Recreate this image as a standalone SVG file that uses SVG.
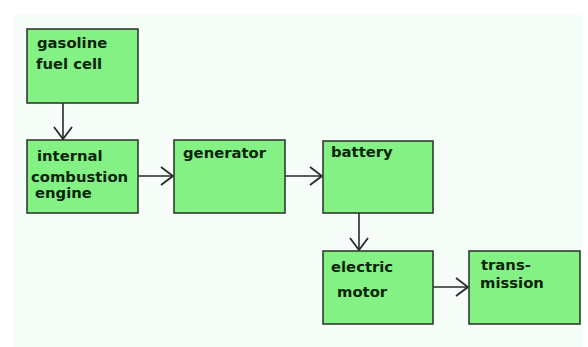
<svg xmlns="http://www.w3.org/2000/svg" width="588" height="347" viewBox="0 0 588 347">
<defs>
<style>
.box{fill:#84f184;stroke:#2f3d2f;stroke-width:1.6}
.t{font-family:"DejaVu Sans",Verdana,sans-serif;font-weight:bold;font-size:14.8px;fill:#0b240b}
.c{stroke:#2a2a2a;stroke-width:1.6;fill:none}
</style>
<marker id="ah" viewBox="0 0 14 20" refX="13" refY="10" markerWidth="14" markerHeight="20" markerUnits="userSpaceOnUse" orient="auto">
<path d="M1,1 L13,10 L1,19" fill="none" stroke="#2a2a2a" stroke-width="1.8"/>
</marker>
</defs>
<rect x="0" y="0" width="588" height="347" fill="#ffffff"/>
<rect x="13" y="15" width="570" height="332" fill="#f6fcf8"/>
<g id="connectors">
<line class="c" x1="63" y1="103" x2="63" y2="139" marker-end="url(#ah)"/>
<line class="c" x1="138" y1="176" x2="173" y2="176" marker-end="url(#ah)"/>
<line class="c" x1="285" y1="176" x2="322" y2="176" marker-end="url(#ah)"/>
<line class="c" x1="359" y1="213" x2="359" y2="250" marker-end="url(#ah)"/>
<line class="c" x1="433" y1="287" x2="468" y2="287" marker-end="url(#ah)"/>
</g>
<g id="gasoline">
<rect class="box" x="27" y="29" width="111" height="74"/>
<text class="t" x="37" y="48">gasoline</text>
<text class="t" x="36" y="69">fuel cell</text>
</g>
<g id="ice">
<rect class="box" x="27" y="140" width="111" height="73"/>
<text class="t" x="37" y="161">internal</text>
<text class="t" x="31" y="182">combustion</text>
<text class="t" x="35" y="198">engine</text>
</g>
<g id="generator">
<rect class="box" x="174" y="140" width="111" height="73"/>
<text class="t" x="183" y="158">generator</text>
</g>
<g id="battery">
<rect class="box" x="323" y="141" width="110" height="72"/>
<text class="t" x="331" y="157">battery</text>
</g>
<g id="motor">
<rect class="box" x="323" y="251" width="110" height="73"/>
<text class="t" x="331" y="272">electric</text>
<text class="t" x="337" y="297">motor</text>
</g>
<g id="transmission">
<rect class="box" x="469" y="251" width="111" height="73"/>
<text class="t" x="481" y="270">trans-</text>
<text class="t" x="480" y="288">mission</text>
</g>
</svg>
